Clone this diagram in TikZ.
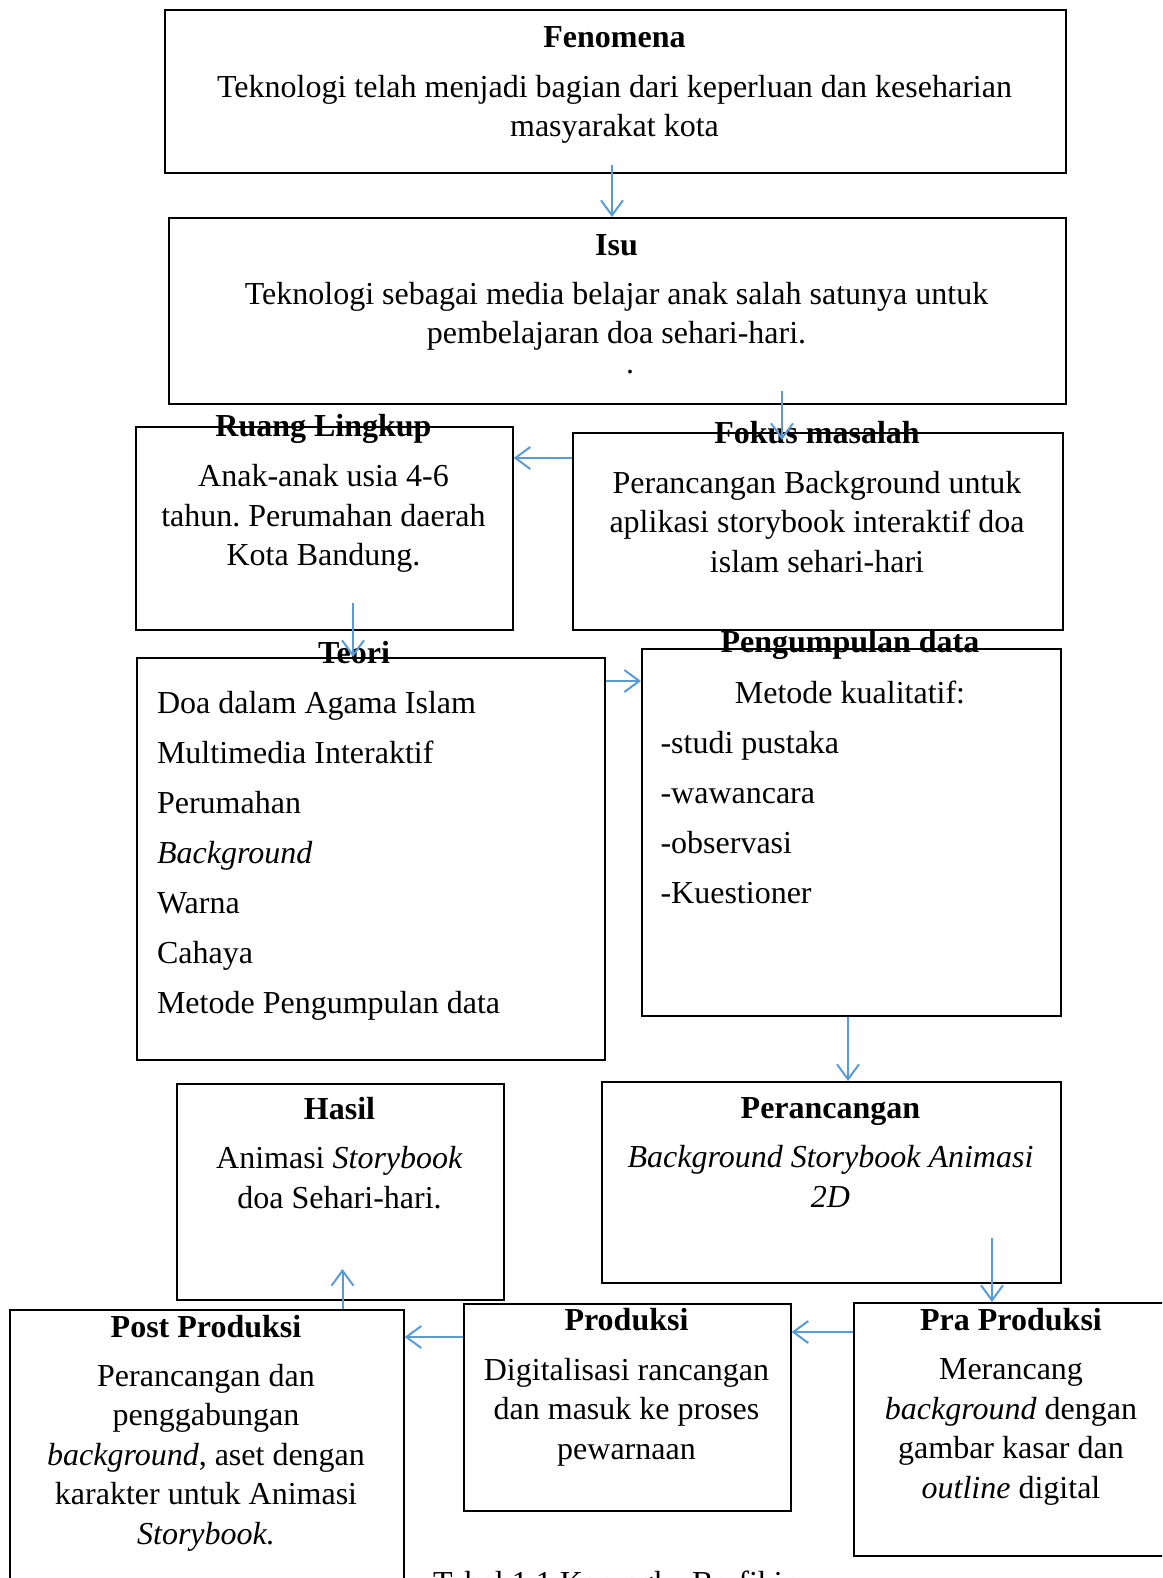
\documentclass[tikz,border=0pt]{standalone}
\usepackage{fontspec}
\setmainfont{Liberation Serif}
\usetikzlibrary{arrows.meta}

\definecolor{arrowblue}{RGB}{91,155,213}
\frenchspacing

\begin{document}
\begin{tikzpicture}[
    x=1pt, y=-1pt,
    >=Stealth,
    box/.style={draw, line width=1.6pt, rectangle, anchor=north west, inner sep=0pt},
    title/.style={font=\fontsize{32}{39.5}\selectfont\bfseries},
    body/.style={font=\fontsize{32}{39.5}\selectfont, align=center},
    list/.style={font=\fontsize{32}{50}\selectfont, align=left, anchor=west},
    arr/.style={draw=arrowblue, line width=2pt, -{Straight Barb[length=15pt,width=22pt]}}
]
    \clip (0,0) rectangle (1162,1578);

    % Boxes
    \node[box, minimum width=901pt, minimum height=163pt] (fenomena) at (164,9) {};
    \node[box, minimum width=897pt, minimum height=186pt] (isu) at (168,217) {};
    \node[box, minimum width=377pt, minimum height=203pt] (ruang) at (135,426) {};
    \node[box, minimum width=490pt, minimum height=197pt] (fokus) at (572,432) {};
    \node[box, minimum width=468pt, minimum height=402pt] (teori) at (136,657) {};
    \node[box, minimum width=419pt, minimum height=367pt] (kumpul) at (641,648) {};
    \node[box, minimum width=327pt, minimum height=216pt] (hasil) at (176,1083) {};
    \node[box, minimum width=459pt, minimum height=201pt] (rancang) at (601,1081) {};
    \node[box, minimum width=394pt, minimum height=330pt] (post) at (9,1309) {};
    \node[box, minimum width=327pt, minimum height=207pt] (produksi) at (463,1303) {};
    \node[box, minimum width=316pt, minimum height=253pt] (pra) at (853,1302) {};

    % Fenomena
    \node[title] (fenomenaT) at (614.5,37) {Fenomena};
    \node[body] (fenomenaB) at (614.5,109.5) {Teknologi telah menjadi bagian dari keperluan dan keseharian\\ masyarakat kota};

    % Isu
    \node[title] (isuT) at (616.5,245) {Isu};
    \node[body] (isuB) at (616.5,316.5) {Teknologi sebagai media belajar anak salah satunya untuk\\ pembelajaran doa sehari-hari.};
    \node[body, anchor=base, inner sep=0pt] (isuDot) at (630,373) {.};

    % Ruang Lingkup
    \node[title] (ruangT) at (323.5,429) {Ruang Lingkup};
    \node[body] (ruangB) at (323.5,518.5) {Anak-anak usia 4-6\\ tahun. Perumahan daerah\\ Kota Bandung.};

    % Fokus masalah
    \node[title] (fokusT) at (817,433) {Fokus masalah};
    \node[body] (fokusB) at (817,522) {Perancangan Background untuk\\ aplikasi storybook interaktif doa\\ islam sehari-hari};

    % Teori
    \node[title] (teoriT) at (354,653) {Teori};
    \node[list] (teoriB) at (153.5,856) {Doa dalam Agama Islam\\ Multimedia Interaktif\\ Perumahan\\ \textit{Background}\\ Warna\\ Cahaya\\ Metode Pengumpulan data};

    % Pengumpulan data
    \node[title] (kumpulT) at (850,645) {Pengumpulan data};
    \node[body] (kumpulM) at (850,692) {Metode kualitatif:};
    \node[list] (kumpulB) at (657,818) {-studi pustaka\\ -wawancara\\ -observasi\\ -Kuestioner};

    % Hasil
    \node[title] (hasilT) at (339.5,1109) {Hasil};
    \node[body] (hasilB) at (339.5,1177.5) {Animasi \textit{Storybook}\\ doa Sehari-hari.};

    % Perancangan
    \node[title] (rancangT) at (830.5,1112) {Perancangan};
    \node[body, font=\fontsize{32}{39.5}\selectfont\itshape] (rancangB) at (830.5,1176.5) {Background Storybook Animasi\\ 2D};

    % Post Produksi
    \node[title] (postT) at (206,1327) {Post Produksi};
    \node[body] (postB) at (206,1457.5) {Perancangan dan\\ penggabungan\\ \textit{background}, aset dengan\\ karakter untuk Animasi\\ \textit{Storybook.}};

    % Produksi
    \node[title] (produksiT) at (626.5,1320) {Produksi};
    \node[body] (produksiB) at (626.5,1412) {Digitalisasi rancangan\\ dan masuk ke proses\\ pewarnaan};

    % Pra Produksi
    \node[title] (praT) at (1011,1320) {Pra Produksi};
    \node[body] (praB) at (1011,1432) {Merancang\\ \textit{background} dengan\\ gambar kasar dan\\ \textit{outline} digital};

    % Caption
    \node[font=\fontsize{32}{39.5}\selectfont, anchor=base west, inner sep=0pt] (caption) at (433,1593) {Tabel 1.1 Kerangka Berfikir};

    % Arrows
    \coordinate (fenOut) at (612,165);
    \coordinate (isuOut) at (782,391);
    \coordinate (fokusIn) at (782,440);
    \coordinate (fokusRow) at (540,458);
    \coordinate (ruangOut) at (353,603);
    \coordinate (teoriRow) at (620,681);
    \coordinate (kumpulCol) at (848,1040);
    \coordinate (rancangOut) at (992,1238);
    \coordinate (praRow) at (820,1332);
    \coordinate (produksiRow) at (430,1337);
    \coordinate (hasilIn) at (342.5,1269);

    \draw[arr] (fenOut) -- (fenOut |- isu.north);
    \draw[arr] (isuOut) -- (fokusIn);
    \draw[arr] (fokus.west |- fokusRow) -- (ruang.east |- fokusRow);
    \draw[arr] (ruangOut) -- (ruangOut |- teori.north);
    \draw[arr] (teori.east |- teoriRow) -- (kumpul.west |- teoriRow);
    \draw[arr] (kumpul.south -| kumpulCol) -- (rancang.north -| kumpulCol);
    \draw[arr] (rancangOut) -- (rancangOut |- pra.north);
    \draw[arr] (pra.west |- praRow) -- (produksi.east |- praRow);
    \draw[arr] (produksi.west |- produksiRow) -- (post.east |- produksiRow);
    \draw[arr] (post.north -| hasilIn) -- (hasilIn);

\end{tikzpicture}
\end{document}
